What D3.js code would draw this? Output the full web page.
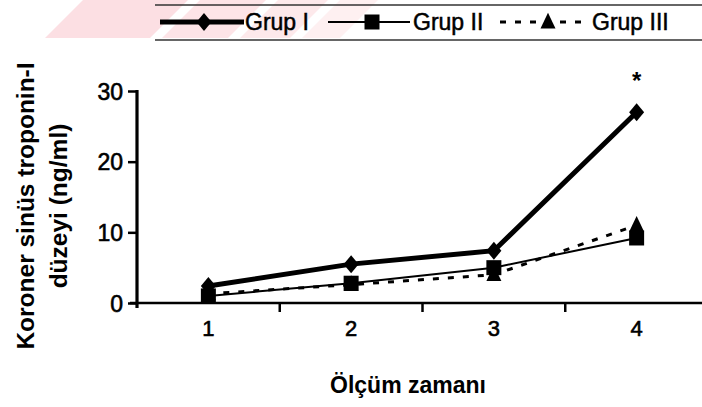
<!DOCTYPE html>
<html><head><meta charset="utf-8">
<script src="https://cdn.jsdelivr.net/npm/d3@7"></script>
<style>body{margin:0;background:#fff} svg{display:block}</style>
</head><body><svg id="c" width="702" height="407"></svg>
<script>
const categories = ["1", "2", "3", "4"];
const grupI = [2.4, 5.5, 7.4, 27.0];
const grupII = [1.0, 2.8, 5.0, 9.2];
const grupIII = [1.3, 2.6, 4.0, 11.0];
const yTicks = [0, 10, 20, 30];
const seriesNames = ["Grup I", "Grup II", "Grup III"];
const yTitle = ["Koroner sinüs troponin-I", "düzeyi (ng/ml)"];
const xTitle = "Ölçüm zamanı";
const significance = { category: "4", label: "*", value: 32 };

const svg = d3.select("#c");
const font = "'Liberation Sans', Arial, sans-serif";

// faint pink watermark band at top
svg.append("defs").html(`
  <clipPath id="wmclip"><rect x="0" y="0" width="702" height="38"/></clipPath>`);
const wm = svg.append("g").attr("clip-path", "url(#wmclip)");
const stripes = [[45, 150, "#fcdfe3"], [162, 228, "#fde4e7"], [240, 290, "#fde9eb"], [302, 340, "#fef0f1"]];
stripes.forEach(s => {
  wm.append("path")
    .attr("d", `M${s[0]},38 L${s[0] + 38},0 L${s[1] + 38},0 L${s[1]},38 Z`)
    .attr("fill", s[2]);
});

const x = d3.scaleBand().domain(categories).range([137, 708]);
const cx = c => x(c) + x.bandwidth() / 2;
const y = d3.scaleLinear().domain([0, 30]).range([303, 91]);

// Y axis
const yAxis = svg.append("g").attr("transform", "translate(137,0)")
  .call(d3.axisLeft(y).tickValues(yTicks).tickSize(9).tickSizeOuter(0).tickPadding(5));
yAxis.select(".domain").remove();
yAxis.selectAll(".tick line").attr("stroke", "#000").attr("stroke-width", 2.5);
yAxis.selectAll(".tick text").attr("font-family", font).attr("font-size", 23).attr("fill", "#000")
  .attr("stroke", "#000").attr("stroke-width", 0.6).attr("dy", "0.36em");
svg.append("line").attr("x1", 137).attr("x2", 137).attr("y1", y(30) - 1).attr("y2", y(0) + 5)
  .attr("stroke", "#000").attr("stroke-width", 3.2);

// X axis
svg.append("line").attr("x1", 130).attr("x2", 702).attr("y1", y(0)).attr("y2", y(0))
  .attr("stroke", "#000").attr("stroke-width", 2.5);
categories.slice(1).forEach(c => {
  svg.append("line").attr("x1", x(c)).attr("x2", x(c)).attr("y1", y(0)).attr("y2", y(0) + 9)
    .attr("stroke", "#000").attr("stroke-width", 2.5);
});
const xAxis = svg.append("g").attr("transform", `translate(0,${y(0)})`)
  .call(d3.axisBottom(x).tickSize(0).tickPadding(17));
xAxis.select(".domain").remove();
xAxis.selectAll(".tick text").attr("font-family", font).attr("font-size", 22).attr("fill", "#000")
  .attr("stroke", "#000").attr("stroke-width", 0.6);

// Titles
svg.append("text").attr("x", 408).attr("y", 393).attr("text-anchor", "middle")
  .attr("font-family", font).attr("font-weight", "bold").attr("font-size", 23).text(xTitle);
const yt = svg.append("text").attr("transform", "translate(0,206) rotate(-90)")
  .attr("text-anchor", "middle").attr("font-family", font).attr("font-weight", "bold").attr("font-size", 24.5);
yt.append("tspan").attr("x", 0).attr("y", 34).text(yTitle[0]);
yt.append("tspan").attr("x", 0).attr("y", 67).text(yTitle[1]);

// markers
const diamond = (s) => `M0,${-s * 1.2}L${s},0L0,${s * 1.2}L${-s},0Z`;
const square = (s) => `M${-s},${-s}H${s}V${s}H${-s}Z`;
const triangle = (s) => `M0,${-s * 1.25}L${s},${s * 0.85}L${-s},${s * 0.85}Z`;

const series = [
  { name: seriesNames[2], values: grupIII, width: 3, dash: "6,9", marker: triangle(7.5) },
  { name: seriesNames[1], values: grupII, width: 2, dash: null, marker: square(7.5) },
  { name: seriesNames[0], values: grupI, width: 5, dash: null, marker: diamond(7.5) }
];
const line = d3.line().x((d, i) => cx(categories[i])).y(d => y(d));
series.forEach(s => {
  svg.append("path").attr("d", line(s.values)).attr("fill", "none").attr("stroke", "#000")
    .attr("stroke-width", s.width).attr("stroke-dasharray", s.dash);
  svg.append("g").selectAll("path").data(s.values).join("path")
    .attr("transform", (d, i) => `translate(${cx(categories[i])},${y(d)})`)
    .attr("d", s.marker).attr("fill", "#000");
});

// significance asterisk
svg.append("text").attr("x", cx(significance.category)).attr("y", y(significance.value) + 12)
  .attr("text-anchor", "middle").attr("font-family", font).attr("font-weight", "bold")
  .attr("font-size", 24).text(significance.label);

// Legend
svg.append("line").attr("x1", 155).attr("x2", 702).attr("y1", 5).attr("y2", 5).attr("stroke", "#333").attr("stroke-width", 1.5);
svg.append("line").attr("x1", 155).attr("x2", 702).attr("y1", 40).attr("y2", 40).attr("stroke", "#333").attr("stroke-width", 1.5);
const legendItems = [
  { s: series[2], x1: 160, x2: 244, mx: 204, tx: 245 },
  { s: series[1], x1: 328, x2: 410, mx: 372, tx: 413 },
  { s: series[0], x1: 500, x2: 590, mx: 548, tx: 592 }
];
const lg = svg.append("g");
const ly = 22;
legendItems.forEach(it => {
  lg.append("line").attr("x1", it.x1).attr("x2", it.x2).attr("y1", ly).attr("y2", ly)
    .attr("stroke", "#000").attr("stroke-width", it.s.width).attr("stroke-dasharray", it.s.dash);
  lg.append("path").attr("transform", `translate(${it.mx},${ly})`).attr("d", it.s.marker).attr("fill", "#000");
  lg.append("text").attr("x", it.tx).attr("y", ly + 8).attr("font-family", font).attr("font-size", 23)
    .attr("stroke", "#000").attr("stroke-width", 0.5).text(it.s.name);
});
</script></body></html>
